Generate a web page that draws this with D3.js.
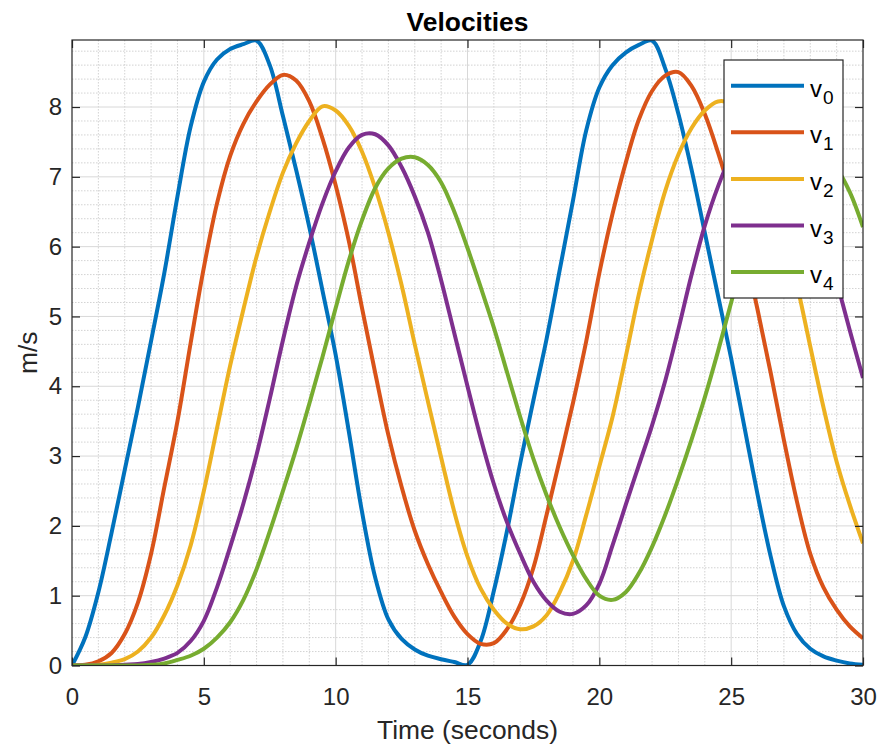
<!DOCTYPE html>
<html>
<head>
<meta charset="utf-8">
<script src="https://cdn.jsdelivr.net/npm/d3@7"></script>
<style>
  body { margin: 0; background: #fff; }
  text { font-family: "Liberation Sans", Arial, Helvetica, sans-serif; }
</style>
</head>
<body>
<div class="chart"></div>
<script>
// sample times, every 0.5 s from 0 to 30
const time = d3.range(61).map(i => i * 0.5);

const v0 = [0, 0.4, 1.05, 1.9, 2.8, 3.7, 4.65, 5.62, 6.72, 7.72, 8.36, 8.68, 8.83, 8.9, 8.95, 8.6,
  7.87, 7.1, 6.28, 5.37, 4.45, 3.35, 2.2, 1.26, 0.66, 0.38, 0.23, 0.14, 0.09, 0.05, 0.01, 0.35,
  1.07, 1.93, 2.9, 3.8, 4.68, 5.67, 6.66, 7.66, 8.28, 8.6, 8.78, 8.89, 8.95, 8.55, 7.9, 7.1,
  6.2, 5.3, 4.4, 3.42, 2.45, 1.56, 0.85, 0.45, 0.24, 0.13, 0.07, 0.03, 0.01];
const v1 = [0, 0.01, 0.06, 0.18, 0.45, 0.9, 1.6, 2.55, 3.5, 4.62, 5.7, 6.62, 7.3, 7.76, 8.08, 8.32,
  8.46, 8.38, 8.08, 7.55, 6.88, 6.08, 5.12, 4.19, 3.3, 2.56, 1.93, 1.45, 1.05, 0.7, 0.45, 0.31,
  0.32, 0.52, 0.87, 1.4, 2.16, 2.95, 3.76, 4.64, 5.62, 6.47, 7.2, 7.82, 8.23, 8.45, 8.5, 8.3,
  7.9, 7.35, 6.72, 5.95, 5.1, 4.19, 3.23, 2.34, 1.6, 1.12, 0.8, 0.56, 0.39];
const v2 = [0, 0, 0.01, 0.04, 0.09, 0.2, 0.4, 0.72, 1.15, 1.72, 2.5, 3.4, 4.3, 5.1, 5.86, 6.5,
  7.06, 7.48, 7.8, 8.01, 7.95, 7.73, 7.36, 6.84, 6.2, 5.45, 4.6, 3.78, 2.98, 2.2, 1.56, 1.1,
  0.8, 0.6, 0.52, 0.56, 0.72, 1.05, 1.5, 2.15, 2.85, 3.56, 4.42, 5.32, 6.1, 6.8, 7.32, 7.7,
  7.95, 8.08, 8.04, 7.78, 7.36, 6.85, 6.25, 5.45, 4.57, 3.7, 2.92, 2.3, 1.75];
const v3 = [0, 0, 0, 0, 0.01, 0.02, 0.05, 0.1, 0.18, 0.35, 0.64, 1.12, 1.7, 2.32, 3.02, 3.82,
  4.66, 5.43, 6.06, 6.62, 7.08, 7.42, 7.6, 7.61, 7.45, 7.14, 6.72, 6.2, 5.52, 4.76, 4.0, 3.26,
  2.6, 2.05, 1.6, 1.2, 0.93, 0.77, 0.74, 0.86, 1.17, 1.72, 2.3, 2.87, 3.44, 4.08, 4.82, 5.6,
  6.3, 6.86, 7.3, 7.56, 7.67, 7.65, 7.47, 7.15, 6.7, 6.15, 5.5, 4.8, 4.12];
const v4 = [0, 0, 0, 0, 0, 0, 0.01, 0.03, 0.08, 0.14, 0.24, 0.4, 0.62, 0.94, 1.38, 1.92,
  2.5, 3.1, 3.75, 4.42, 5.12, 5.8, 6.38, 6.84, 7.12, 7.26, 7.28, 7.17, 6.92, 6.5, 5.98, 5.42,
  4.84, 4.2, 3.56, 2.96, 2.44, 1.98, 1.58, 1.24, 1.0, 0.94, 1.05, 1.32, 1.7, 2.16, 2.68, 3.24,
  3.84, 4.5, 5.2, 5.9, 6.48, 6.92, 7.2, 7.35, 7.38, 7.3, 7.12, 6.78, 6.28];

const seriesNames = ["0", "1", "2", "3", "4"];
const colors = ["#0072BD", "#D95319", "#EDB120", "#7E2F8E", "#77AC30"];
const xTicks = [0, 5, 10, 15, 20, 25, 30];
const yTicks = [0, 1, 2, 3, 4, 5, 6, 7, 8];

document.addEventListener("DOMContentLoaded", draw);

function draw() {
  var width = 883,
      height = 749,
      left = 72, right = 863, top = 40, bottom = 665.5;

  const svg = d3.select(".chart").append("svg")
    .attr("width", width)
    .attr("height", height);

  const x = d3.scaleLinear().domain([0, 30]).range([left, right]);
  const y = d3.scaleLinear().domain([0, 8.96]).range([bottom, top]);

  const axisColor = "#262626";

  // minor grid
  const grid = svg.append("g");
  grid.selectAll("line.xm")
    .data(d3.range(1, 30).filter(d => d % 5 !== 0))
    .enter().append("line")
    .attr("x1", d => x(d)).attr("x2", d => x(d))
    .attr("y1", top).attr("y2", bottom)
    .attr("stroke", "#c8c8c8").attr("stroke-width", 0.8)
    .attr("stroke-dasharray", "1.5,1.5");
  grid.selectAll("line.ym")
    .data(d3.range(1, 45).map(i => i * 0.2).filter(d => Math.abs(d - Math.round(d)) > 0.01))
    .enter().append("line")
    .attr("y1", d => y(d)).attr("y2", d => y(d))
    .attr("x1", left).attr("x2", right)
    .attr("stroke", "#c8c8c8").attr("stroke-width", 0.8)
    .attr("stroke-dasharray", "1.5,1.5");

  // major grid
  grid.selectAll("line.xg")
    .data(xTicks.slice(1, -1))
    .enter().append("line")
    .attr("x1", d => x(d)).attr("x2", d => x(d))
    .attr("y1", top).attr("y2", bottom)
    .attr("stroke", "#d8d8d8").attr("stroke-width", 1);
  grid.selectAll("line.yg")
    .data(yTicks.slice(1))
    .enter().append("line")
    .attr("y1", d => y(d)).attr("y2", d => y(d))
    .attr("x1", left).attr("x2", right)
    .attr("stroke", "#d8d8d8").attr("stroke-width", 1);

  // curves
  svg.append("clipPath").attr("id", "plotclip")
    .append("rect")
    .attr("x", left).attr("y", top)
    .attr("width", right - left).attr("height", bottom - top);

  const line = d3.line()
    .x((d, i) => x(time[i]))
    .y(d => y(Math.max(0, d)))
    .curve(d3.curveCatmullRom.alpha(0.5));

  svg.append("g")
    .attr("clip-path", "url(#plotclip)")
    .selectAll("path")
    .data([v0, v1, v2, v3, v4])
    .enter().append("path")
    .attr("d", line)
    .attr("fill", "none")
    .attr("stroke", (d, i) => colors[i])
    .attr("stroke-width", 4)
    .attr("stroke-linejoin", "round");

  // axes with inward ticks on all four sides
  const tickLen = 8;
  const xAxisB = d3.axisBottom(x).tickValues(xTicks).tickSizeInner(-tickLen).tickSizeOuter(0).tickPadding(22);
  const yAxisL = d3.axisLeft(y).tickValues(yTicks).tickSizeInner(-tickLen).tickSizeOuter(0).tickPadding(10);
  const xAxisT = d3.axisTop(x).tickValues(xTicks).tickSizeInner(-tickLen).tickSizeOuter(0).tickFormat("");
  const yAxisR = d3.axisRight(y).tickValues(yTicks).tickSizeInner(-tickLen).tickSizeOuter(0).tickFormat("");

  function style(g) {
    g.select(".domain").remove();
    g.selectAll("line").attr("stroke", axisColor).attr("stroke-width", 1.2);
    g.selectAll("text").attr("fill", axisColor)
      .style("font-size", "24px")
      .style("font-family", '"Liberation Sans", Arial, sans-serif');
  }

  svg.append("g").attr("transform", `translate(0,${bottom})`).call(xAxisB).call(style);
  svg.append("g").attr("transform", `translate(${left},0)`).call(yAxisL).call(style);
  svg.append("g").attr("transform", `translate(0,${top})`).call(xAxisT).call(style);
  svg.append("g").attr("transform", `translate(${right},0)`).call(yAxisR).call(style);

  svg.append("rect")
    .attr("x", left).attr("y", top)
    .attr("width", right - left).attr("height", bottom - top)
    .attr("fill", "none")
    .attr("stroke", axisColor)
    .attr("stroke-width", 1.2);

  // title and labels
  svg.append("text")
    .attr("x", (left + right) / 2).attr("y", 31)
    .attr("text-anchor", "middle")
    .style("font-size", "26.4px").style("font-weight", "bold")
    .attr("fill", "#000")
    .text("Velocities");

  svg.append("text")
    .attr("x", (left + right) / 2).attr("y", 739)
    .attr("text-anchor", "middle")
    .style("font-size", "26.4px")
    .attr("fill", axisColor)
    .text("Time (seconds)");

  svg.append("text")
    .attr("transform", `translate(37,${(top + bottom) / 2}) rotate(-90)`)
    .attr("text-anchor", "middle")
    .style("font-size", "26.4px")
    .attr("fill", axisColor)
    .text("m/s");

  // legend
  const lx = 724, ly = 60, lw = 119, lh = 238, rowH = 46.6;
  const legend = svg.append("g");
  legend.append("rect")
    .attr("x", lx).attr("y", ly)
    .attr("width", lw).attr("height", lh)
    .attr("fill", "#fff")
    .attr("stroke", axisColor)
    .attr("stroke-width", 1.2);

  const rows = legend.selectAll("g.row")
    .data(seriesNames)
    .enter().append("g")
    .attr("transform", (d, i) => `translate(0,${ly + 25.7 + i * rowH})`);

  rows.append("line")
    .attr("x1", 731).attr("x2", 804)
    .attr("y1", 0).attr("y2", 0)
    .attr("stroke", (d, i) => colors[i])
    .attr("stroke-width", 4);

  rows.append("text")
    .attr("x", 810).attr("y", 11)
    .style("font-size", "24px")
    .attr("fill", "#000")
    .text("v");

  rows.append("text")
    .attr("x", 823).attr("y", 18)
    .style("font-size", "19px")
    .attr("fill", "#000")
    .text(d => d);
}
</script>
</body>
</html>
